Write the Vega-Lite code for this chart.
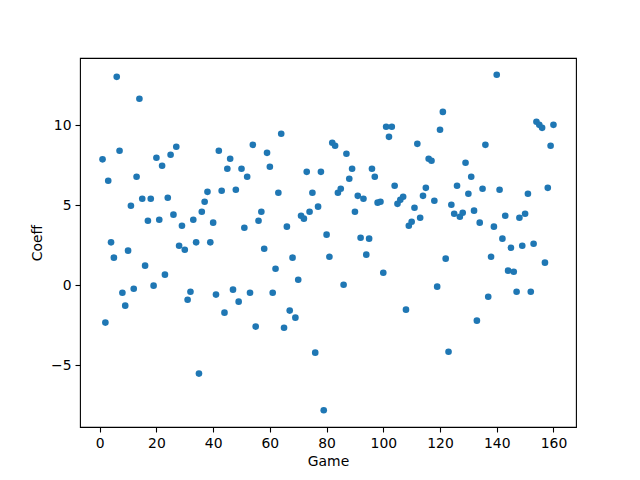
{
  "$schema": "https://vega.github.io/schema/vega-lite/v6.json",
  "width": 496,
  "height": 369,
  "autosize": {"type": "none"},
  "padding": {"left": 80, "top": 58, "right": 64, "bottom": 53},
  "background": "white",
  "data": {
    "values": [
      {"Game": 1, "Coeff": 7.88}, {"Game": 2, "Coeff": -2.33}, {"Game": 3, "Coeff": 6.54}, {"Game": 4, "Coeff": 2.69},
      {"Game": 5, "Coeff": 1.73}, {"Game": 6, "Coeff": 13.04}, {"Game": 7, "Coeff": 8.42}, {"Game": 8, "Coeff": -0.46},
      {"Game": 9, "Coeff": -1.27}, {"Game": 10, "Coeff": 2.17}, {"Game": 11, "Coeff": 4.98}, {"Game": 12, "Coeff": -0.21},
      {"Game": 13, "Coeff": 6.79}, {"Game": 14, "Coeff": 11.67}, {"Game": 15, "Coeff": 5.42}, {"Game": 16, "Coeff": 1.23},
      {"Game": 17, "Coeff": 4.04}, {"Game": 18, "Coeff": 5.42}, {"Game": 19, "Coeff": -0.02}, {"Game": 20, "Coeff": 7.98},
      {"Game": 21, "Coeff": 4.1}, {"Game": 22, "Coeff": 7.48}, {"Game": 23, "Coeff": 0.67}, {"Game": 24, "Coeff": 5.48},
      {"Game": 25, "Coeff": 8.17}, {"Game": 26, "Coeff": 4.42}, {"Game": 27, "Coeff": 8.67}, {"Game": 28, "Coeff": 2.48},
      {"Game": 29, "Coeff": 3.73}, {"Game": 30, "Coeff": 2.23}, {"Game": 31, "Coeff": -0.9}, {"Game": 32, "Coeff": -0.4},
      {"Game": 33, "Coeff": 4.1}, {"Game": 34, "Coeff": 2.69}, {"Game": 35, "Coeff": -5.52}, {"Game": 36, "Coeff": 4.6},
      {"Game": 37, "Coeff": 5.23}, {"Game": 38, "Coeff": 5.85}, {"Game": 39, "Coeff": 2.69}, {"Game": 40, "Coeff": 3.92},
      {"Game": 41, "Coeff": -0.58}, {"Game": 42, "Coeff": 8.42}, {"Game": 43, "Coeff": 5.92}, {"Game": 44, "Coeff": -1.71},
      {"Game": 45, "Coeff": 7.29}, {"Game": 46, "Coeff": 7.92}, {"Game": 47, "Coeff": -0.27}, {"Game": 48, "Coeff": 5.98},
      {"Game": 49, "Coeff": -1.02}, {"Game": 50, "Coeff": 7.29}, {"Game": 51, "Coeff": 3.6}, {"Game": 52, "Coeff": 6.79},
      {"Game": 53, "Coeff": -0.46}, {"Game": 54, "Coeff": 8.79}, {"Game": 55, "Coeff": -2.58}, {"Game": 56, "Coeff": 4.04},
      {"Game": 57, "Coeff": 4.6}, {"Game": 58, "Coeff": 2.29}, {"Game": 59, "Coeff": 8.29}, {"Game": 60, "Coeff": 7.42},
      {"Game": 61, "Coeff": -0.46}, {"Game": 62, "Coeff": 1.04}, {"Game": 63, "Coeff": 5.79}, {"Game": 64, "Coeff": 9.48},
      {"Game": 65, "Coeff": -2.65}, {"Game": 66, "Coeff": 3.67}, {"Game": 67, "Coeff": -1.58}, {"Game": 68, "Coeff": 1.73},
      {"Game": 69, "Coeff": -2.02}, {"Game": 70, "Coeff": 0.35}, {"Game": 71, "Coeff": 4.35}, {"Game": 72, "Coeff": 4.17},
      {"Game": 73, "Coeff": 7.1}, {"Game": 74, "Coeff": 4.6}, {"Game": 75, "Coeff": 5.79}, {"Game": 76, "Coeff": -4.21},
      {"Game": 77, "Coeff": 4.92}, {"Game": 78, "Coeff": 7.1}, {"Game": 79, "Coeff": -7.81}, {"Game": 80, "Coeff": 3.17},
      {"Game": 81, "Coeff": 1.79}, {"Game": 82, "Coeff": 8.92}, {"Game": 83, "Coeff": 8.73}, {"Game": 84, "Coeff": 5.79},
      {"Game": 85, "Coeff": 6.04}, {"Game": 86, "Coeff": 0.04}, {"Game": 87, "Coeff": 8.23}, {"Game": 88, "Coeff": 6.67},
      {"Game": 89, "Coeff": 7.29}, {"Game": 90, "Coeff": 4.6}, {"Game": 91, "Coeff": 5.6}, {"Game": 92, "Coeff": 2.98},
      {"Game": 93, "Coeff": 5.42}, {"Game": 94, "Coeff": 1.92}, {"Game": 95, "Coeff": 2.92}, {"Game": 96, "Coeff": 7.29},
      {"Game": 97, "Coeff": 6.79}, {"Game": 98, "Coeff": 5.17}, {"Game": 99, "Coeff": 5.23}, {"Game": 100, "Coeff": 0.79},
      {"Game": 101, "Coeff": 9.92}, {"Game": 102, "Coeff": 9.29}, {"Game": 103, "Coeff": 9.92}, {"Game": 104, "Coeff": 6.23},
      {"Game": 105, "Coeff": 5.1}, {"Game": 106, "Coeff": 5.35}, {"Game": 107, "Coeff": 5.54}, {"Game": 108, "Coeff": -1.52},
      {"Game": 109, "Coeff": 3.73}, {"Game": 110, "Coeff": 3.98}, {"Game": 111, "Coeff": 4.85}, {"Game": 112, "Coeff": 8.85},
      {"Game": 113, "Coeff": 4.23}, {"Game": 114, "Coeff": 5.6}, {"Game": 115, "Coeff": 6.1}, {"Game": 116, "Coeff": 7.92},
      {"Game": 117, "Coeff": 7.79}, {"Game": 118, "Coeff": 5.29}, {"Game": 119, "Coeff": -0.08}, {"Game": 120, "Coeff": 9.73},
      {"Game": 121, "Coeff": 10.85}, {"Game": 122, "Coeff": 1.67}, {"Game": 123, "Coeff": -4.15}, {"Game": 124, "Coeff": 5.04},
      {"Game": 125, "Coeff": 4.48}, {"Game": 126, "Coeff": 6.23}, {"Game": 127, "Coeff": 4.29}, {"Game": 128, "Coeff": 4.54},
      {"Game": 129, "Coeff": 7.67}, {"Game": 130, "Coeff": 5.73}, {"Game": 131, "Coeff": 6.79}, {"Game": 132, "Coeff": 4.67},
      {"Game": 133, "Coeff": -2.21}, {"Game": 134, "Coeff": 3.92}, {"Game": 135, "Coeff": 6.04}, {"Game": 136, "Coeff": 8.79},
      {"Game": 137, "Coeff": -0.71}, {"Game": 138, "Coeff": 1.79}, {"Game": 139, "Coeff": 3.67}, {"Game": 140, "Coeff": 13.17},
      {"Game": 141, "Coeff": 5.98}, {"Game": 142, "Coeff": 2.92}, {"Game": 143, "Coeff": 4.35}, {"Game": 144, "Coeff": 0.92},
      {"Game": 145, "Coeff": 2.35}, {"Game": 146, "Coeff": 0.85}, {"Game": 147, "Coeff": -0.4}, {"Game": 148, "Coeff": 4.23},
      {"Game": 149, "Coeff": 2.48}, {"Game": 150, "Coeff": 4.48}, {"Game": 151, "Coeff": 5.73}, {"Game": 152, "Coeff": -0.4},
      {"Game": 153, "Coeff": 2.6}, {"Game": 154, "Coeff": 10.23}, {"Game": 155, "Coeff": 10.04}, {"Game": 156, "Coeff": 9.85},
      {"Game": 157, "Coeff": 1.42}, {"Game": 158, "Coeff": 6.1}, {"Game": 159, "Coeff": 8.73}, {"Game": 160, "Coeff": 10.04}
    ]
  },
  "mark": {"type": "circle", "color": "#1f77b4", "opacity": 1, "size": 44},
  "encoding": {
    "x": {
      "field": "Game",
      "type": "quantitative",
      "scale": {"domain": [-6.95, 167.95], "nice": false, "zero": false},
      "axis": {"values": [0, 20, 40, 60, 80, 100, 120, 140, 160], "title": "Game"}
    },
    "y": {
      "field": "Coeff",
      "type": "quantitative",
      "scale": {"domain": [-8.86, 14.22], "nice": false, "zero": false},
      "axis": {"values": [-5, 0, 5, 10], "title": "Coeff"}
    }
  },
  "config": {
    "font": "DejaVu Sans",
    "view": {"stroke": "#000000", "strokeWidth": 1.1},
    "axis": {
      "grid": false,
      "domain": false,
      "tickColor": "#000000",
      "tickSize": 5,
      "tickWidth": 1.1,
      "labelColor": "#000000",
      "labelFont": "DejaVu Sans",
      "labelFontSize": 13.9,
      "labelPadding": 4,
      "titleColor": "#000000",
      "titleFont": "DejaVu Sans",
      "titleFontSize": 13.9,
      "titleFontWeight": "normal"
    },
    "axisX": {"titlePadding": 5},
    "axisY": {"titlePadding": 6}
  }
}
